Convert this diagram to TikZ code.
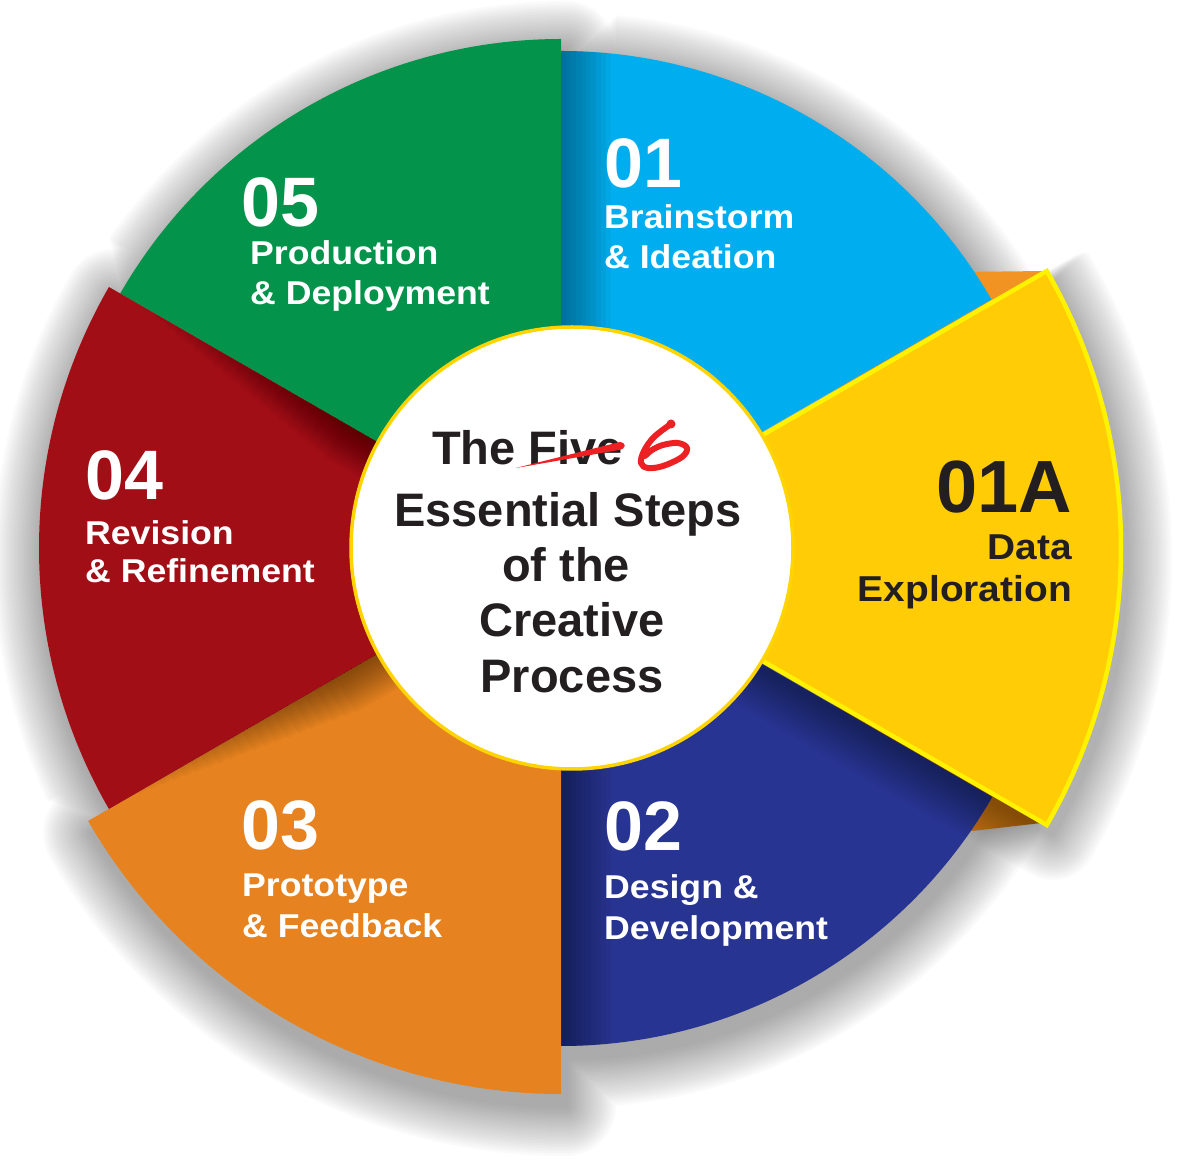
\documentclass[tikz,border=0pt]{standalone}
\usepackage{fontspec}
\usetikzlibrary{calc}
\setmainfont{Liberation Sans}
\newfontfamily\labf{Liberation Sans}[FakeStretch=1.08]
\definecolor{cBlue}{HTML}{00AEEF}
\definecolor{cGreen}{HTML}{03934A}
\definecolor{cRed}{HTML}{A20E16}
\definecolor{cOrange}{HTML}{E6821F}
\definecolor{cNavy}{HTML}{283491}
\definecolor{cYellow}{HTML}{FFCC05}
\definecolor{cYellowEdge}{HTML}{FFF200}
\definecolor{cRing}{HTML}{FFD400}
\definecolor{cBackTop}{HTML}{F29423}
\definecolor{cBackBot}{HTML}{C47418}
\definecolor{cInk}{HTML}{231F20}
\definecolor{cMark}{HTML}{ED2024}
\tikzset{
  wedge/.style n args={5}{insert path={(#1,#2) -- +(#4:{#3}) arc[start angle=#4, end angle=#5, radius={#3}] -- cycle}},
  % outline of the five wedges grown by #1 (rounded steps, like a blur)
  outline/.style={insert path={
    ($(561,620)+(30:{497+#1})$) arc[start angle=30, end angle={acos(#1/(497+#1))}, radius={497+#1}]
    -- ({561+#1},1129) arc[start angle=0, end angle=90, radius={#1}]
    arc[start angle=90, end angle={60+acos(#1/(509+#1))}, radius={509+#1}]
    -- ($(561,620)+(150:522)+(60:{#1})$) arc[start angle=60, end angle=150, radius={#1}]
    arc[start angle=150, end angle={120+acos(#1/(522+#1))}, radius={522+#1}]
    -- ($(561,620)+(210:546)+(120:{#1})$) arc[start angle=120, end angle=210, radius={#1}]
    arc[start angle=210, end angle=270, radius={546+#1}]
    arc[start angle=270, end angle=360, radius={#1}]
    -- ($(561,620)+({360-acos(#1/(498+#1))}:{498+#1})$)
    arc[start angle={360-acos(#1/(498+#1))}, end angle=390, radius={498+#1}]
    -- cycle}},
  % yellow wedge grown by #1 (upper edge grown only a little)
  ygrow/.style={insert path={
    ($(567,620)+(-120:{#1})$) -- ($(567,620)+(-30:554)+(-120:{#1})$)
    arc[start angle=-120, end angle=-30, radius={#1}]
    arc[start angle=-30, end angle=30, radius={554+#1}]
    .. controls ($(567,620)+(30:{554+#1})+(120:{0.25*#1})$) .. ($(567,620)+(30:554)+(120:{0.25*#1})$)
    -- ($(567,620)+(120:{0.25*#1})$)
    -- cycle}},
  num/.style={font=\bfseries\fontsize{70}{70}\selectfont, text=white, inner sep=0pt, anchor=base west},
  lab/.style={font=\labf\bfseries\fontsize{33}{40}\selectfont, text=white, inner sep=0pt, anchor=base west},
  title/.style={font=\bfseries\fontsize{47}{56}\selectfont, text=cInk, inner sep=0pt, anchor=base},
  shadowlayer/.style={black, opacity=0.02},
  foldlayer/.style={black, opacity=0.04}
}
\begin{document}
\begin{tikzpicture}[x=1pt, y=1pt]
\useasboundingbox (0,0) rectangle (1200,1168);
% soft drop shadow of the whole ring
\begin{scope}[shift={(5,-12)}]
\foreach \k in {1,...,20}{
  \fill[shadowlayer, outline={2.5*\k}];
}
\end{scope}
% orange piece behind the yellow wedge
\shade[top color=cBackTop, bottom color=cBackBot] (720,668) -- (960,896) -- (1045,897) -- (1050,346) -- (972,337) -- (720,568) -- cycle;
% main wedges
\fill[cBlue, wedge={561}{620}{497}{30}{90}];
\fill[cNavy, wedge={561}{620}{498}{270}{330}];
\fill[cGreen, wedge={561}{620}{509}{90}{150}];
\fill[cOrange, wedge={561}{620}{546}{210}{270}];
\fill[cRed, wedge={561}{620}{522}{150}{210}];
% fold shadows
\begin{scope}
\clip[wedge={561}{620}{497}{30}{90}];
\foreach \i in {1,...,10} \fill[foldlayer] (561,600) rectangle ({561+5*\i},1200);
\end{scope}
\begin{scope}
\clip[wedge={561}{620}{498}{270}{330}];
\foreach \i in {1,...,10} \fill[foldlayer] (561,0) rectangle ({561+5*\i},640);
\end{scope}
\begin{scope}
\clip[wedge={561}{620}{522}{150}{210}];
\begin{scope}[shift={(561,620)}, rotate=150]
\foreach \i in {1,...,20} \fill[black, opacity=0.022] (0,0) rectangle ({490-12*\i},{2*\i});
\end{scope}
\end{scope}
\begin{scope}
\clip[wedge={561}{620}{546}{210}{270}];
\begin{scope}[shift={(561,620)}, rotate=210]
\foreach \i in {1,...,20} \fill[black, opacity=0.022] (0,0) rectangle ({500-12*\i},{2*\i});
\end{scope}
\end{scope}
% yellow wedge shadow and wedge
\begin{scope}[shift={(6,-10)}]
\foreach \k in {1,...,18}{
  \fill[shadowlayer, ygrow={2.5*\k}];
}
\end{scope}
\filldraw[fill=cYellow, draw=cYellowEdge, line width=4.5pt, line join=miter, wedge={567}{620}{554}{-30}{30}];
% centre disc
\filldraw[fill=white, draw=cRing, line width=3.5pt] (572,620) circle (221);
% step labels
\node[num] (n01) at (604,980) {01};
\node[lab] (t01a) at (604,939) {Brainstorm};
\node[lab] (t01b) at (604,899) {\& Ideation};
\node[num] (n05) at (241,941) {05};
\node[lab] (t05a) at (250,903) {Production};
\node[lab] (t05b) at (250,863) {\& Deployment};
\node[num] (n04) at (85,668) {04};
\node[lab] (t04a) at (85,623) {Revision};
\node[lab] (t04b) at (85,585) {\& Refinement};
\node[num] (n03) at (241,318) {03};
\node[lab] (t03a) at (242,271) {Prototype};
\node[lab] (t03b) at (242,230) {\& Feedback};
\node[num] (n02) at (604,317) {02};
\node[lab] (t02a) at (604,269) {Design \&};
\node[lab] (t02b) at (604,228) {Development};
\node[num, text=cInk, anchor=base east, font=\bfseries\fontsize{74}{74}\selectfont] (n01A) at (1072,655) {01A};
\node[lab, text=cInk, anchor=base east, font=\labf\bfseries\fontsize{36}{43}\selectfont] (t01Aa) at (1072,608) {Data};
\node[lab, text=cInk, anchor=base east, font=\labf\bfseries\fontsize{36}{43}\selectfont] (t01Ab) at (1072,566) {Exploration};
% centre title
\node[title, anchor=base west] (h1) at (432,703) {The Five};
\node[title] (h2) at (568,641) {Essential Steps};
\node[title] (h3) at (566,586) {of the};
\node[title] (h4) at (572,531) {Creative};
\node[title] (h5) at (572,475) {Process};
% red strike-through and hand-written 6
\fill[cMark] (516,700) -- (619,718) .. controls (626,719) and (627,725) .. (620,726) -- cycle;
\draw[cMark, line width=6pt, line cap=round, line join=round] plot[smooth, tension=0.6] coordinates {(671,744) (654,731) (644,717) (641,705) (648,700) (663,702) (682,711) (687,720) (678,725) (663,723) (652,718) (645,712)};
\fill[cMark] (671,744) circle (4.5);
\end{tikzpicture}
\end{document}
